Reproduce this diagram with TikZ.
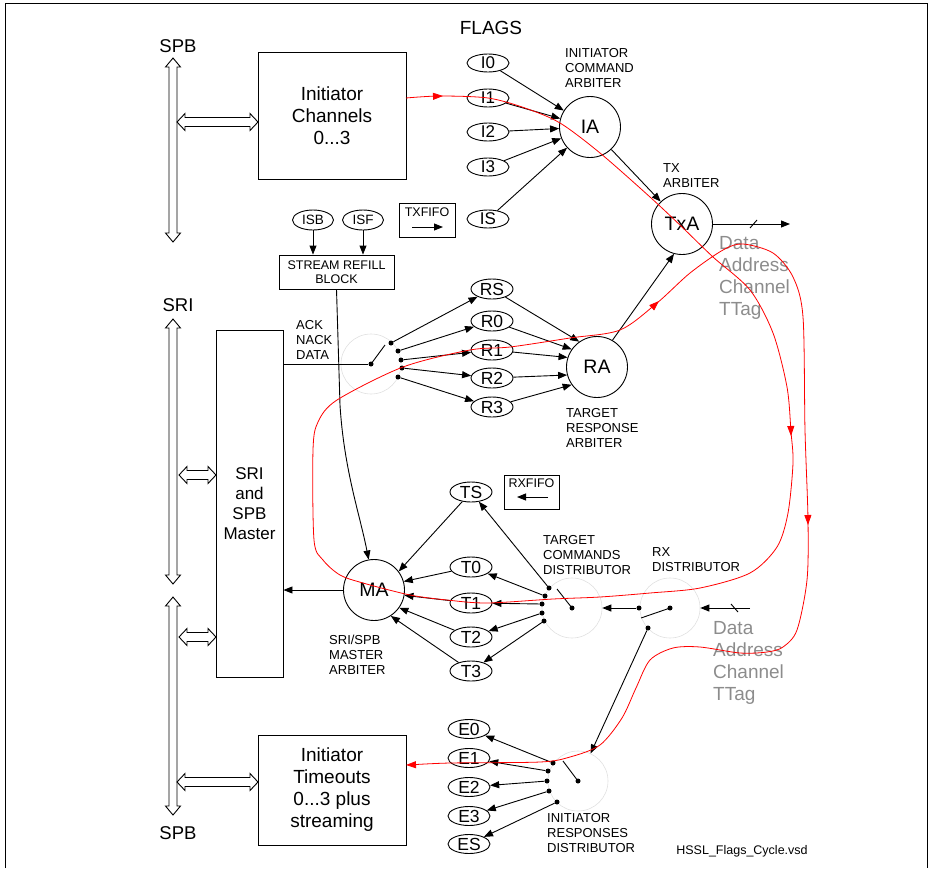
\documentclass[tikz,border=0pt]{standalone}
\usepackage{fontspec}
\setmainfont{Liberation Sans}
\usetikzlibrary{arrows.meta,shapes.geometric}
\newcommand\vdarrow[3]{% x, ytop, ybot
  \draw[busln] (#1,#2) -- (#1+7.5,#2+9) -- (#1+4,#2+9) -- (#1+4,#3-9) -- (#1+7.5,#3-9) -- (#1,#3)
   -- (#1-7.5,#3-9) -- (#1-4,#3-9) -- (#1-4,#2+9) -- (#1-7.5,#2+9) -- cycle;}
\newcommand\hdarrow[3]{% y, xleft, xright
  \draw[busln] (#2,#1) -- (#2+8,#1-8.5) -- (#2+8,#1-4.5) -- (#3-8,#1-4.5) -- (#3-8,#1-8.5) -- (#3,#1)
   -- (#3-8,#1+8.5) -- (#3-8,#1+4.5) -- (#2+8,#1+4.5) -- (#2+8,#1+8.5) -- cycle;}
\begin{document}
\begin{tikzpicture}[x=1pt,y=-1pt,
  ln/.style={line width=0.9pt},
  arr/.style={line width=0.9pt,-{Triangle[length=9pt,width=7pt]}},
  busln/.style={line width=0.9pt,fill=white},
  redln/.style={red,line width=0.8pt},
  redarr/.style={red,line width=0.8pt,-{Triangle[length=10pt,width=7pt]}},
  ell/.style={draw,ellipse,line width=0.9pt,minimum width=42pt,minimum height=20pt,inner sep=0pt,font=\fontsize{17.5}{18}\selectfont},
  iell/.style={ell,minimum height=18pt,font=\fontsize{17}{18}\selectfont},
  sell/.style={ell,minimum width=41pt,font=\fontsize{13.5}{15}\selectfont},
  arb/.style={draw,circle,line width=0.9pt,minimum size=61pt,inner sep=0pt,font=\fontsize{19.5}{22}\selectfont},
  gcirc/.style={draw=black!12,circle,line width=0.6pt,minimum size=60pt,inner sep=0pt},
  dot/.style={circle,fill,inner sep=0pt,minimum size=5pt},
  blk/.style={draw,line width=0.9pt,inner sep=0pt},
  big/.style={font=\fontsize{19}{22}\selectfont,align=center},
  small/.style={font=\fontsize{13}{15}\selectfont,align=left,anchor=north west,inner sep=0pt},
  greytxt/.style={text=black!45,font=\fontsize{19}{22}\selectfont,align=left,anchor=north west,inner sep=0pt}
]
\useasboundingbox (0,0) rectangle (929,868);
% frame
\draw[line width=1pt] (5,868) -- (5,3) -- (927,3) -- (927,868);

% buses
\vdarrow{173}{58}{242}
\vdarrow{173}{319}{584}
\vdarrow{173}{597}{815}
\node[font=\fontsize{18.5}{20}\selectfont] (spbt) at (178,46) {SPB};
\node[font=\fontsize{18.5}{20}\selectfont] (sri) at (178,305) {SRI};
\node[font=\fontsize{18.5}{20}\selectfont] (spbb) at (178,833) {SPB};
\node[font=\fontsize{19}{20}\selectfont] (flags) at (491,28) {FLAGS};

% boxes
\node[blk,big,minimum width=148pt,minimum height=127pt] (ic) at (332,115.5) {Initiator\\Channels\\0...3};
\node[blk,font=\fontsize{17}{20}\selectfont,align=center,minimum width=67pt,minimum height=347pt] (mbox) at (249.5,503.5) {SRI\\and\\SPB\\Master};
\node[blk,big,minimum width=148pt,minimum height=110pt] (it) at (332,790) {Initiator\\Timeouts\\0...3 plus\\streaming};
\node[blk,font=\fontsize{12.5}{14}\selectfont,align=center,minimum width=115pt,minimum height=34pt] (srb) at (336.5,272) {STREAM REFILL\\BLOCK};
\node[blk,minimum width=56pt,minimum height=34pt] (txf) at (427,220) {};
\node[font=\fontsize{12.5}{14}\selectfont] (txft) at (427,212) {TXFIFO};
\draw[arr] (412,227) -- (443,227);
\node[blk,minimum width=55pt,minimum height=34pt] (rxf) at (531.5,492) {};
\node[font=\fontsize{12.5}{14}\selectfont] (rxft) at (531.5,483) {RXFIFO};
\draw[arr] (548,497) -- (517,497);

% bus connections
\hdarrow{122}{177}{258}
\hdarrow{475}{179}{216}
\hdarrow{637}{179}{216}
\hdarrow{782}{177}{258}

% initiator flags
\node[iell] (I0) at (488,63) {I0};
\node[iell] (I1) at (488,98) {I1};
\node[iell] (I2) at (488,132) {I2};
\node[iell] (I3) at (488,167) {I3};
\node[iell] (IS) at (488,219) {IS};
\node[arb] (IA) at (590,127) {IA};
\node[arb] (TxA) at (682,224) {TxA};
\node[small] (ical) at (565,48) {INITIATOR\\COMMAND\\ARBITER};
\node[small] (txal) at (663,163) {TX\\ARBITER};
\foreach \n in {I0,I1,I2,I3,IS} \draw[arr] (\n) -- (IA);
\draw[arr] (IA) -- (TxA);
\coordinate (txout) at (790,224);
\draw[arr] (TxA.east) -- (txout);
\draw[ln] (750,228) -- (757,220);
\node[greytxt] (dact) at (719,236) {Data\\Address\\Channel\\TTag};

% stream refill
\node[sell] (ISB) at (313,220) {ISB};
\node[sell] (ISF) at (363,220) {ISF};
\draw[arr] (ISB) -- (ISB |- srb.north);
\draw[arr] (ISF) -- (ISF |- srb.north);

% ack switch
\node[gcirc] (ackc) at (371,364) {};
\node[dot] (ap) at (371,364) {};
\draw[ln] (mbox.east |- ap) -- (ap);
\draw[ln] (ap.center) -- (385,345);
\node[dot] (a1) at (391,343) {};
\node[dot] (a2) at (398,351) {};
\node[dot] (a3) at (401,360) {};
\node[dot] (a4) at (402,368) {};
\node[dot] (a5) at (398,377) {};
\node[small] (ackl) at (296,320) {ACK\\NACK\\DATA};

\node[ell] (RS) at (492,289) {RS};
\node[ell] (R0) at (492,321) {R0};
\node[ell] (R1) at (492,350) {R1};
\node[ell] (R2) at (492,378) {R2};
\node[ell] (R3) at (492,407) {R3};
\node[arb] (RA) at (597,367) {RA};
\node[small] (ral) at (566,408) {TARGET\\RESPONSE\\ARBITER};
\draw[arr] (a1) -- (RS);
\draw[arr] (a2) -- (R0);
\draw[arr] (a3) -- (R1);
\draw[arr] (a4) -- (R2);
\draw[arr] (a5) -- (R3);
\draw[arr] (RS) -- (RA.125);
\draw[arr] (R0) -- (RA.145);
\draw[arr] (R1) -- (RA.162);
\draw[arr] (R2) -- (RA.195);
\draw[arr] (R3) -- (RA.215);
\draw[arr] (RA.60) -- (TxA.255);

% master arbiter
\node[arb] (MA) at (374,590) {MA};
\node[small] (mal) at (329,635) {SRI/SPB\\MASTER\\ARBITER};
\draw[arr] (MA) -- (mbox.east |- MA);
\draw[arr] (srb.south) -- (340,405) .. controls (344,470) and (360,515) .. (MA.100);

\node[ell] (TS) at (471,492) {TS};
\node[ell] (T0) at (471,567) {T0};
\node[ell] (T1) at (471,603) {T1};
\node[ell] (T2) at (471,637) {T2};
\node[ell] (T3) at (471,671) {T3};
\draw[arr] (TS) -- (MA.37);
\draw[arr] (T0) -- (MA.16);
\draw[arr] (T1) -- (MA.350);
\draw[arr] (T2) -- (MA.325);
\draw[arr] (T3) -- (MA.303);

% target commands distributor
\node[gcirc] (tcd) at (572,608) {};
\node[dot] (tp) at (572,608) {};
\draw[ln] (tp.center) -- (557,589);
\node[dot] (t1) at (549,588) {};
\node[dot] (t2) at (545,596) {};
\node[dot] (t3) at (542,604) {};
\node[dot] (t4) at (542,613) {};
\node[dot] (t5) at (544,621) {};
\draw[arr] (t1) -- (TS);
\draw[arr] (t2) -- (T0);
\draw[arr] (t3) -- (T1);
\draw[arr] (t4) -- (T2);
\draw[arr] (t5) -- (T3);
\node[small] (tcdl) at (543,535) {TARGET\\COMMANDS\\DISTRIBUTOR};

% rx distributor
\node[gcirc] (rxd) at (670,608) {};
\node[dot] (rp) at (670,608) {};
\node[dot] (r1) at (639,608) {};
\node[dot] (r2) at (648,628) {};
\draw[ln] (rp.center) -- (641,618);
\draw[arr] (r1) -- (tcd);
\coordinate (rxin) at (750,608);
\draw[arr] (rxin) -- (rxd);
\draw[ln] (731,604) -- (738,612);
\node[small] (rxl) at (652,547) {RX\\DISTRIBUTOR};
\node[greytxt] (dacb) at (713,621) {Data\\Address\\Channel\\TTag};

% initiator responses distributor
\node[gcirc] (ird) at (578,781) {};
\node[dot] (ip) at (578,781) {};
\draw[ln] (ip.center) -- (563,761);
\draw[arr] (r2) -- (ird);
\node[dot] (e1) at (553,763) {};
\node[dot] (e2) at (548,771) {};
\node[dot] (e3) at (547,781) {};
\node[dot] (e4) at (549,791) {};
\node[dot] (e5) at (557,802) {};
\node[ell,minimum height=19pt] (E0) at (469,729) {E0};
\node[ell,minimum height=19pt] (E1) at (469,758) {E1};
\node[ell,minimum height=19pt] (E2) at (469,787) {E2};
\node[ell,minimum height=19pt] (E3) at (469,816) {E3};
\node[ell,minimum height=19pt] (ES) at (469,844) {ES};
\draw[arr] (e1) -- (E0);
\draw[arr] (e2) -- (E1);
\draw[arr] (e3) -- (E2);
\draw[arr] (e4) -- (E3);
\draw[arr] (e5) -- (ES);
\node[small] (irdl) at (547,813) {INITIATOR\\RESPONSES\\DISTRIBUTOR};

\node[font=\fontsize{12.5}{14}\selectfont] (fname) at (742,851) {HSSL\_Flags\_Cycle.vsd};

% red flow path
\draw[redln] plot[smooth,tension=0.5] coordinates {
 (406,98) (440,96) (488,98) (525,108) (560,123) (600,153) (650,197) (682,227) (713,257)
 (750,290) (773,333) (787,387) (791,432) (793,463) (788,513) (777,547) (750,573) (700,588)
 (650,593) (600,597) (553,599) (487,603) (447,600) (410,595) (363,583) (340,575) (323,560)
 (314,540) (313,450) (318,422) (337,400) (403,367) (470,350) (510,347) (570,338) (620,330)
 (657,303) (690,273) (723,250) (743,244) (773,253) (793,277) (803,317) (805,430) (808,520)
 (807,580) (797,630) (783,647) (767,652) (740,653) (700,647) (673,648) (650,660) (636,688)
 (622,718) (600,745) (570,757) (540,762) (450,763) (408,765)};
\draw[redarr] (437,96.2) -- (443,96);
\draw[redarr] (790.8,428) -- (791,436);
\draw[redarr] (652,307.5) -- (659,301);
\draw[redarr] (807.9,518) -- (808,525);
\draw[redarr] (413,764.8) -- (406,765);
\end{tikzpicture}
\end{document}
